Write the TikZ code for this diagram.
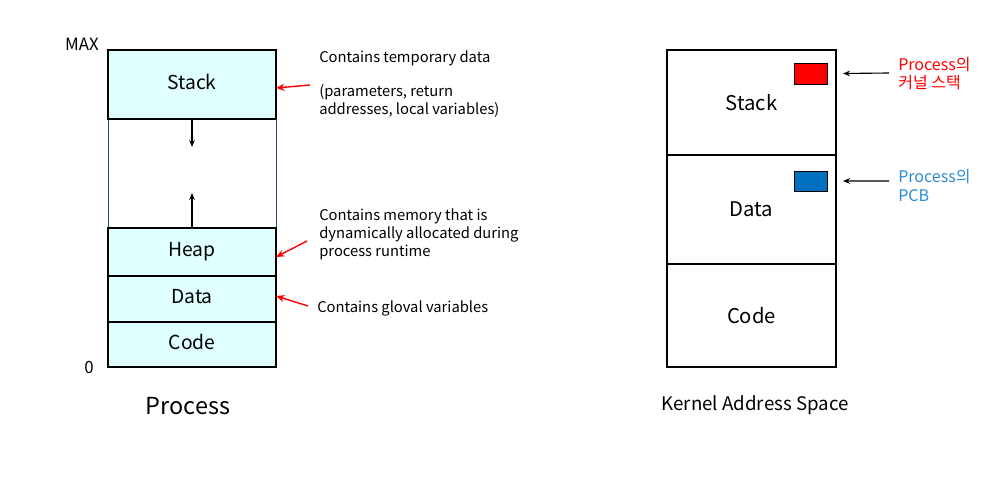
\documentclass[tikz,border=0pt]{standalone}
\usepackage{fontspec}
\setmainfont{Noto Sans CJK KR}
\usetikzlibrary{arrows.meta,positioning}
\definecolor{segfill}{HTML}{E0FFFF}
\definecolor{pcbblue}{HTML}{0070C0}
\definecolor{pcbtext}{HTML}{2A8AD6}
\definecolor{gapline}{HTML}{2F4A7A}

\begin{document}
\begin{tikzpicture}[
  seg/.style={draw, line width=1pt, fill=segfill, minimum width=4.2cm, outer sep=0pt, inner sep=0pt, font={\fontsize{13.7}{16}\selectfont}},
  kseg/.style={draw, line width=0.8pt, minimum width=4.225cm, outer sep=0pt, inner sep=0pt, font={\fontsize{14.4}{17}\selectfont}},
  note/.style={anchor=west, align=left, inner sep=0pt, font={\fontsize{10.5}{12.8}\selectfont}},
  klabel/.style={anchor=west, align=left, inner sep=0pt, font={\fontsize{11.4}{13.5}\selectfont}},
  redarr/.style={-{Stealth[length=6pt,width=5pt]}, red, line width=1pt},
  karr/.style={-{Stealth[length=5pt,width=4pt]}, line width=0.8pt},
]
\useasboundingbox (0,0) rectangle (25,12.55);

%% 프로세스 주소 공간 (왼쪽)
\node[seg, minimum height=1.725cm] (stack) at (4.8,10.4375) {Stack\vphantom{p}};
\node[draw=gapline, line width=0.5pt, minimum width=4.2cm, minimum height=2.725cm, outer sep=0pt, below=0pt of stack] (gap) {};
\node[seg, minimum height=1.2cm, below=0pt of gap] (heap) {Heap};
\node[seg, minimum height=1.15cm, below=0pt of heap] (data) {Data\vphantom{p}};
\node[seg, minimum height=1.125cm, below=0pt of data] (code) {Code\vphantom{p}};
\draw[line width=1pt] (stack.south west) -- (stack.south east) (heap.north west) -- (heap.north east);

\node[font={\fontsize{12}{14}\selectfont}] at (2.05,11.45) (max) {MAX};
\node[font={\fontsize{12}{14}\selectfont}] at (2.225,3.375) (zero) {0};
\node[font={\fontsize{16.7}{20}\selectfont}] at (4.7,2.4) (proc) {Process};

%% 스택/힙 성장 방향
\coordinate (sdown) at ([yshift=-0.7cm]stack.south);
\coordinate (hup) at ([yshift=0.875cm]heap.north);
\draw[karr] (stack.south) -- (sdown);
\draw[karr] (heap.north) -- (hup);

%% 설명
\node[note] (n1) at (7.975,11.1) {Contains temporary data};
\node[note] (n2) at (7.975,10.025) {(parameters, return\\addresses, local variables)};
\node[note] (n3) at (7.975,6.7) {Contains memory that is\\dynamically allocated during\\process runtime};
\node[note] (n4) at (7.925,4.85) {Contains gloval variables};

\coordinate (t1) at (7.75,10.425);
\coordinate (t3) at (7.675,6.525);
\coordinate (t4) at (7.7,4.9);
\draw[redarr] (t1) -- ([yshift=-0.0875cm]stack.east);
\draw[redarr] (t3) -- ([yshift=-0.125cm]heap.east);
\draw[redarr] (t4) -- ([yshift=0.075cm]data.east);

%% 커널 주소 공간 (오른쪽)
\node[kseg, minimum height=2.625cm] (kstack) at (18.7875,9.9875) {Stack};
\node[kseg, minimum height=2.725cm, below=0pt of kstack] (kdata) {Data};
\node[kseg, minimum height=2.575cm, below=0pt of kdata] (kcode) {Code};
\node[font={\fontsize{13.3}{16}\selectfont}] at (18.875,2.425) (kas) {Kernel Address Space};

\node[draw, fill=red, minimum width=0.825cm, minimum height=0.525cm, inner sep=0pt] (kst) at (20.2625,10.7125) {};
\node[draw, fill=pcbblue, minimum width=0.825cm, minimum height=0.5cm, inner sep=0pt] (pcb) at (20.2625,8.025) {};

\node[klabel, text=red] (l1) at (22.45,10.7125) {Process의\\커널 스택};
\node[klabel, text=pcbtext] (l2) at (22.45,7.925) {Process의\\PCB};

\draw[karr] ([xshift=-0.225cm,yshift=0.0125cm]l1.west) -- ([xshift=0.175cm]kstack.east |- kst);
\draw[karr] ([xshift=-0.225cm,yshift=0.1cm]l2.west) -- ([xshift=0.175cm]kstack.east |- pcb);

\end{tikzpicture}
\end{document}
